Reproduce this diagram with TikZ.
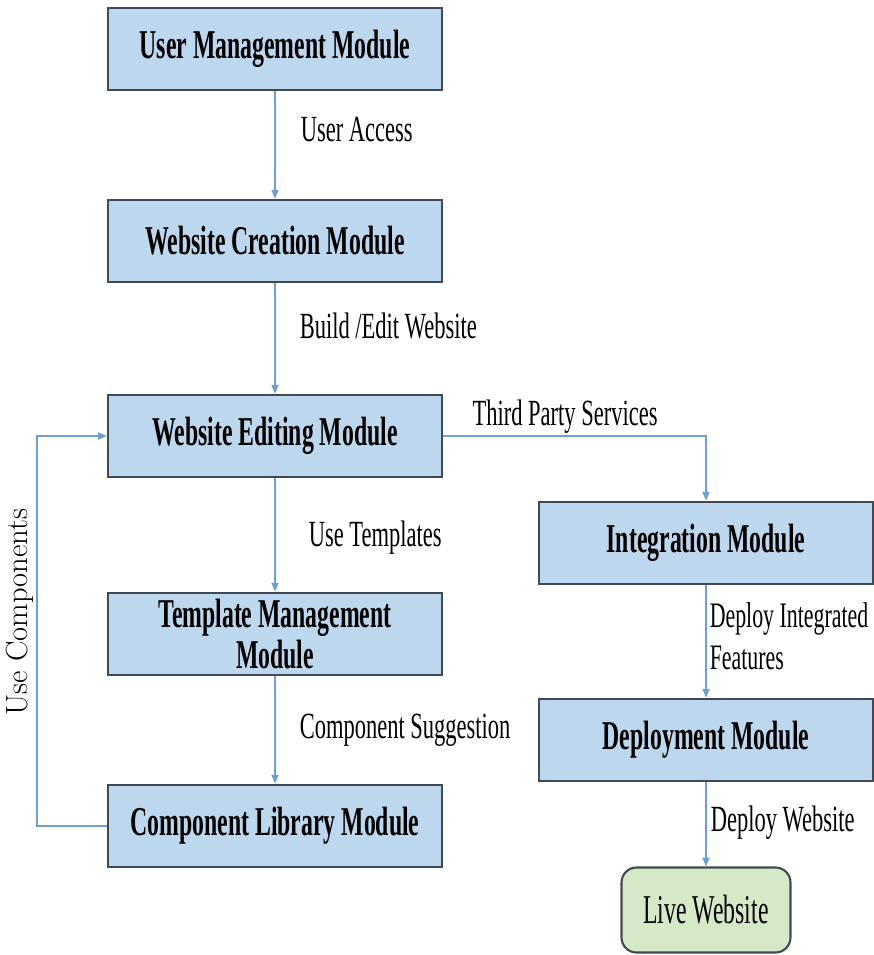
\documentclass[tikz,border=0pt]{standalone}
\usepackage{fontspec}
\usepackage{tikz}
\usetikzlibrary{arrows.meta}
\newfontfamily\boxfont[FakeStretch=0.58]{Liberation Serif}
\newfontfamily\lblfont[FakeStretch=0.61]{Liberation Serif}
\definecolor{modfill}{HTML}{BDD7EE}
\definecolor{livefill}{HTML}{D6E9C6}
\definecolor{modedge}{HTML}{3F4A56}
\definecolor{flowblue}{HTML}{709FCE}

\begin{document}
\begin{tikzpicture}[x=0.02cm,y=-0.02cm,
        module/.style={draw=modedge,line width=1.2pt,fill=modfill,minimum width=6.68cm,minimum height=1.65cm,
            inner sep=0pt,align=center,font=\boxfont\bfseries\fontsize{23.3}{23.8}\selectfont},
        live/.style={draw=modedge,line width=1.2pt,fill=livefill,rounded corners=0.3cm,minimum width=3.38cm,
            minimum height=1.7cm,inner sep=0pt,font=\boxfont\fontsize{23.3}{23.8}\selectfont},
        flow/.style={draw=flowblue,line width=0.9pt,-{Triangle[length=5pt,width=4pt]}},
        lbl/.style={font=\lblfont\fontsize{21}{24}\selectfont,inner sep=0pt,anchor=west,align=left}]
        \fill[white] (0,0) rectangle (873,955);
        \useasboundingbox (0,0) rectangle (873,955);

        \node[module] (um) at (275,49) {User Management Module};
        \node[module] (wc) at (275,241) {Website Creation Module};
        \node[module] (we) at (275,436) {Website Editing Module};
        \node[module] (tm) at (275,634) {Template Management\\Module};
        \node[module] (cl) at (275,826) {Component Library Module};
        \node[module] (im) at (706,543) {Integration Module};
        \node[module] (dm) at (706,740) {Deployment Module};
        \node[live] (lw) at (706,910) {Live Website};

        \draw[flow] (um) -- node[lbl,pos=0.36,xshift=0.5cm] {User Access} (wc);
        \draw[flow] (wc) -- node[lbl,pos=0.39,xshift=0.48cm] {Build /Edit Website} (we);
        \draw[flow] (we) -- node[lbl,pos=0.52,xshift=0.66cm] {Use Templates} (tm);
        \draw[flow] (tm) -- node[lbl,pos=0.5,xshift=0.48cm] {Component Suggestion} (cl);
        \draw[flow] (we.east) -| node[lbl,pos=0.232,anchor=south,yshift=1pt] {Third Party Services} (im.north);
        \draw[flow] (im) -- node[lbl,pos=0.45,xshift=0.06cm,font=\lblfont\fontsize{20.4}{24}\selectfont] {Deploy Integrated\\Features} (dm);
        \draw[flow] (dm) -- node[lbl,pos=0.48,xshift=0.08cm] {Deploy Website} (lw);

        % feedback loop back into the editor
        \draw[flow] (cl.west) -- ++(-70,0) |- node[pos=0.274,anchor=south,rotate=90,inner sep=1.5pt,
            font=\rmfamily\fontsize{17.4}{19}\selectfont] {Use Components} (we.west);
\end{tikzpicture}
\end{document}
